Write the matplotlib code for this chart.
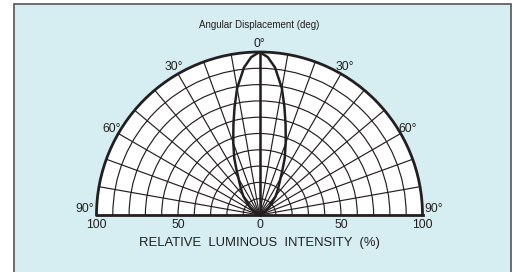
import numpy as np
import matplotlib.pyplot as plt
from matplotlib.patches import Rectangle

# radiation pattern (symmetric lobe)
angle_deg = [0, 3, 6, 10, 13, 16, 18, 20, 24, 27, 32, 36, 41, 50, 60, 70, 80, 90]
intensity = [100, 97, 91, 79, 68, 58, 52, 47, 38, 31, 23, 19, 15, 8, 4, 1.5, 0.5, 0]

ring_values = list(range(10, 101, 10))
spoke_angles = list(range(-90, 91, 10))
angle_labels = [0, 30, 60, 90]
scale_labels = [100, 50, 0, 50, 100]
scale_pos = [-90, -90, 0, 90, 90]   # theta for each bottom label
scale_r = [100, 50, 0, 50, 100]

ink = '#231f20'
plt.rcParams['font.family'] = ['Liberation Sans', 'DejaVu Sans']

fig = plt.figure(figsize=(5.14, 2.72), dpi=100)
fig.patch.set_facecolor('white')

# light blue panel with dark edge
fig.patches.append(Rectangle((13.5 / 514, -0.01), 497.5 / 514, 1 - 3.5 / 272 + 0.01,
                             transform=fig.transFigure, facecolor='#d6eef1',
                             edgecolor='#555555', lw=1.2, zorder=-10))

# polar half plot: matplotlib keeps the wedge box square,
# so the semicircle fills the middle half of the axes box
R = 163
cx, cy = 259.5, 272 - 215
ax = fig.add_axes([(cx - R) / 514, (cy - R / 2) / 272, 2 * R / 514, 2 * R / 272],
                  projection='polar')
ax.set_theta_zero_location('N')
ax.set_theta_direction(-1)
ax.set_thetamin(-90)
ax.set_thetamax(90)
ax.set_rlim(0, 100)
ax.set_facecolor('white')

ax.set_rticks(ring_values)
ax.set_thetagrids(spoke_angles)
ax.set_xticklabels([])
ax.set_yticklabels([])
ax.tick_params(length=0)
ax.grid(True, color=ink, lw=0.85)

for side in ['polar', 'start', 'end']:
    ax.spines[side].set_linewidth(2.0)
    ax.spines[side].set_color(ink)

# thicker centre spoke
ax.plot([0, 0], [0, 100], color=ink, lw=1.8)

# lobe, both sides
th = np.radians(np.array(angle_deg))
r = np.array(intensity)
ax.plot(np.concatenate([-th[::-1], th]), np.concatenate([r[::-1], r]),
        color=ink, lw=1.8)

# angle labels
for a in angle_labels:
    for s in ([1] if a == 0 else [-1, 1]):
        t = np.radians(s * a)
        if a == 90:
            ax.text(t, 107, f'{a}°', ha='center', va='bottom', fontsize=8.7,
                    color=ink, clip_on=False)
        else:
            ax.text(t, 105, f'{a}°', ha='center', va='center', fontsize=8.7,
                    color=ink, clip_on=False)

# intensity scale along baseline
for lab, t, rr in zip(scale_labels, scale_pos, scale_r):
    ax.annotate(str(lab), xy=(np.radians(t), rr), xytext=(0, -3),
                textcoords='offset points', ha='center', va='top',
                fontsize=8.7, color=ink, annotation_clip=False)

fig.text(cx / 514, 1 - 25 / 272, 'Angular Displacement (deg)', ha='center',
         va='center', fontsize=7, color=ink)
fig.text(cx / 514, 1 - 243 / 272, 'RELATIVE  LUMINOUS  INTENSITY  (%)', ha='center',
         va='center', fontsize=9.4, color=ink)

fig.savefig('out.png', dpi=100)
